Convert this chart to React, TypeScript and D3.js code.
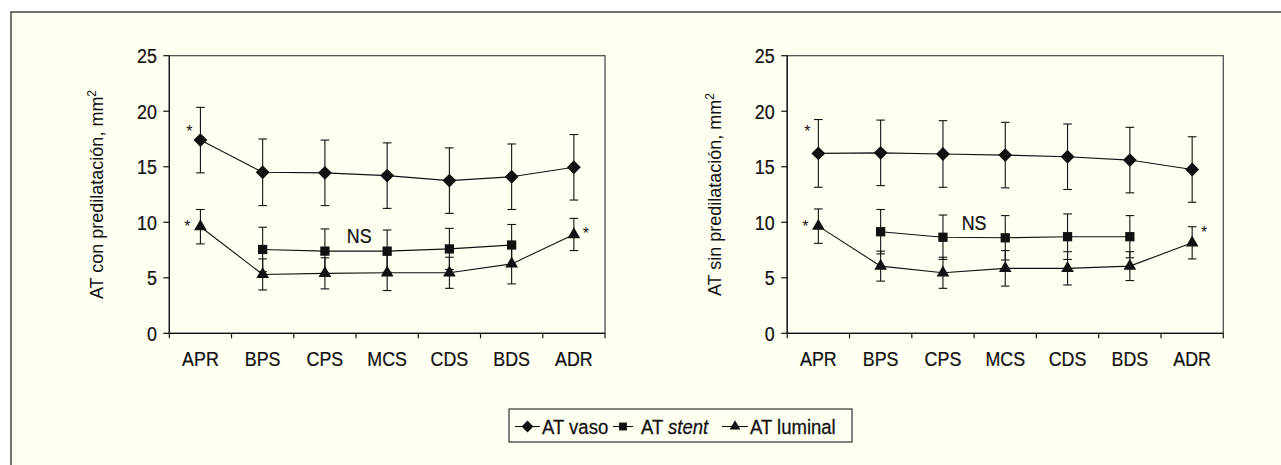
import React from "react";
import * as d3 from "d3";

// categories along the vessel
const categories = ["APR", "BPS", "CPS", "MCS", "CDS", "BDS", "ADR"];
const yTicks = [0, 5, 10, 15, 20, 25];

// con predilatación
const conVaso = [17.4, 14.5, 14.45, 14.2, 13.75, 14.1, 14.95];
const conVasoErr = [2.95, 3.0, 2.95, 2.95, 2.95, 2.95, 2.95];
const conStent = [null, 7.55, 7.4, 7.4, 7.6, 7.95, null];
const conStentErr = [null, 2.0, 2.0, 1.9, 1.85, 1.85, null];
const conLuminal = [9.6, 5.3, 5.4, 5.45, 5.45, 6.25, 8.9];
const conLuminalErr = [1.55, 1.4, 1.4, 1.6, 1.4, 1.8, 1.45];

// sin predilatación
const sinVaso = [16.2, 16.25, 16.15, 16.05, 15.9, 15.6, 14.75];
const sinVasoErr = [3.05, 2.95, 3.0, 2.95, 2.95, 2.95, 2.95];
const sinStent = [null, 9.15, 8.65, 8.6, 8.7, 8.7, null];
const sinStentErr = [null, 2.0, 2.0, 2.0, 2.05, 1.9, null];
const sinLuminal = [9.65, 6.05, 5.45, 5.85, 5.85, 6.05, 8.15];
const sinLuminalErr = [1.55, 1.35, 1.4, 1.6, 1.5, 1.3, 1.45];

// annotations: [category index, value, pixel nudge]
const conStars: [number, number, number][] = [[0, 18.5, -11], [0, 9.95, -13], [6, 9.3, 12]];
const sinStars: [number, number, number][] = [[0, 18.5, -11], [0, 9.95, -13], [6, 9.35, 12]];
const conNS: [number, number] = [2.55, 8.85];
const sinNS: [number, number] = [2.5, 9.95];

const SANS = "'Liberation Sans', Arial, Helvetica, sans-serif";
const INK = "#111";

type Num = number | null;

function marker(kind: string) {
  if (kind === "diamond") return d3.symbol(d3.symbolSquare, 96)();
  if (kind === "square") return d3.symbol(d3.symbolSquare, 86)();
  return d3.symbol(d3.symbolTriangle, 70)();
}

// condensed text: Arial metrics squeezed horizontally
function NText({ x, y, size, anchor = "start", sx = 0.85, children }: { x: number; y: number; size: number; anchor?: string; sx?: number; children: React.ReactNode }) {
  return (
    <text transform={`translate(${x},${y}) scale(${sx},1)`} textAnchor={anchor} fontFamily={SANS} fontSize={size}
      fill={INK} stroke={INK} strokeWidth={0.25}>
      {children}
    </text>
  );
}

function Series({ vals, errs, x, y, kind }: { vals: Num[]; errs: Num[]; x: (i: number) => number; y: d3.ScaleLinear<number, number>; kind: string }) {
  const pts = vals.map((v, i) => ({ v, e: errs[i], i })).filter((d) => d.v != null) as { v: number; e: number; i: number }[];
  const line = d3.line<{ v: number; i: number }>().x((d) => x(d.i)).y((d) => y(d.v));
  const rot = kind === "diamond" ? 45 : 0;
  return (
    <g>
      {pts.map((d) => (
        <g key={"e" + d.i} stroke={INK} strokeWidth={1.1}>
          <line x1={x(d.i)} x2={x(d.i)} y1={y(d.v + d.e)} y2={y(d.v - d.e)} />
          <line x1={x(d.i) - 4.3} x2={x(d.i) + 4.3} y1={y(d.v + d.e)} y2={y(d.v + d.e)} />
          <line x1={x(d.i) - 4.3} x2={x(d.i) + 4.3} y1={y(d.v - d.e)} y2={y(d.v - d.e)} />
        </g>
      ))}
      <path d={line(pts) || ""} fill="none" stroke={INK} strokeWidth={1.1} />
      {pts.map((d) => (
        <path key={"m" + d.i} d={marker(kind) || ""} fill={INK} transform={`translate(${x(d.i)},${y(d.v)}) rotate(${rot})`} />
      ))}
    </g>
  );
}

function Panel(props: {
  x0: number; x1: number; label: string;
  vaso: Num[]; vasoErr: Num[]; stent: Num[]; stentErr: Num[]; lum: Num[]; lumErr: Num[];
  stars: [number, number, number][]; ns: [number, number];
}) {
  const { x0, x1 } = props;
  const yTop = 55.7, yBot = 333.3;
  const band = d3.scaleBand<string>().domain(categories).range([x0, x1]);
  const cx = (i: number) => (band(categories[0]) as number) + band.bandwidth() * (i + 0.5);
  const y = d3.scaleLinear().domain([0, 25]).range([yBot, yTop]);
  const edges = [...categories.map((c) => band(c) as number), x1];
  const midY = (yTop + yBot) / 2;
  return (
    <g>
      <rect x={x0} y={yTop} width={x1 - x0} height={yBot - yTop} fill="none" stroke="#444" strokeWidth={1.2} />
      <line x1={x0} x2={x0} y1={yTop} y2={yBot} stroke={INK} strokeWidth={1.2} />
      <line x1={x0} x2={x1} y1={yBot} y2={yBot} stroke={INK} strokeWidth={1.2} />
      {yTicks.map((t) => (
        <g key={t}>
          <line x1={x0 - 6} x2={x0} y1={y(t)} y2={y(t)} stroke={INK} strokeWidth={1.2} />
          <NText x={x0 - 12.5} y={y(t) + 7.5} size={21} anchor="end">{t}</NText>
        </g>
      ))}
      {edges.map((e, i) => (
        <line key={i} x1={e} x2={e} y1={yBot} y2={yBot + 5} stroke={INK} strokeWidth={1.2} />
      ))}
      {categories.map((c, i) => (
        <NText key={c} x={cx(i)} y={365.5} size={21} anchor="middle">{c}</NText>
      ))}
      <text transform={`translate(${x0 - 66},${midY}) rotate(-90)`} textAnchor="middle" fontFamily={SANS} fontSize={18} fill={INK}>
        {props.label}<tspan dy={-7} fontSize={12}>2</tspan>
      </text>
      <Series vals={props.vaso} errs={props.vasoErr} x={cx} y={y} kind="diamond" />
      <Series vals={props.stent} errs={props.stentErr} x={cx} y={y} kind="square" />
      <Series vals={props.lum} errs={props.lumErr} x={cx} y={y} kind="triangle" />
      {props.stars.map(([i, v, dx], k) => (
        <text key={k} x={cx(i) + dx} y={y(v) + 9} textAnchor="middle" fontFamily={SANS} fontSize={16} fill={INK}>*</text>
      ))}
      <NText x={cx(props.ns[0])} y={y(props.ns[1]) + 7.5} size={21} anchor="middle">NS</NText>
    </g>
  );
}

function Legend() {
  const bx = 509, by = 409, bw = 343, bh = 33;
  const cy = by + bh / 2 + 1;
  const items = [
    { kind: "diamond", l0: 515, l1: 540, tx: 542 },
    { kind: "square", l0: 613, l1: 633, tx: 641 },
    { kind: "triangle", l0: 722, l1: 748, tx: 750 },
  ];
  return (
    <g>
      <rect x={bx} y={by} width={bw} height={bh} fill="none" stroke="#333" strokeWidth={1.2} />
      {items.map((it) => (
        <g key={it.kind}>
          <line x1={it.l0} x2={it.l1} y1={cy} y2={cy} stroke={INK} strokeWidth={1.1} />
          <path d={marker(it.kind) || ""} fill={INK} transform={`translate(${(it.l0 + it.l1) / 2},${cy}) rotate(${it.kind === "diamond" ? 45 : 0}) scale(0.85)`} />
        </g>
      ))}
      <NText x={items[0].tx} y={434.3} size={19.5} sx={0.95}>AT vaso</NText>
      <NText x={items[1].tx} y={434.3} size={19.5} sx={0.95}>
        AT <tspan fontStyle="italic">stent</tspan>
      </NText>
      <NText x={items[2].tx} y={434.3} size={19.5} sx={0.95}>AT luminal</NText>
    </g>
  );
}

export default function App() {
  return (
    <div style={{ position: "absolute", left: 0, top: 0 }}>
      <svg width={1281} height={465} style={{ display: "block" }}>
        <rect x={0} y={0} width={1281} height={465} fill="#fff" />
        <rect x={11} y={12} width={1290} height={480} fill="#fffff2" stroke="#444" strokeWidth={1.5} />
        <Panel x0={169.3} x1={605} label="AT con predilatación, mm" vaso={conVaso} vasoErr={conVasoErr}
          stent={conStent} stentErr={conStentErr} lum={conLuminal} lumErr={conLuminalErr} stars={conStars} ns={conNS} />
        <Panel x0={787.2} x1={1223.3} label="AT sin predilatación, mm" vaso={sinVaso} vasoErr={sinVasoErr}
          stent={sinStent} stentErr={sinStentErr} lum={sinLuminal} lumErr={sinLuminalErr} stars={sinStars} ns={sinNS} />
        <Legend />
      </svg>
    </div>
  );
}
